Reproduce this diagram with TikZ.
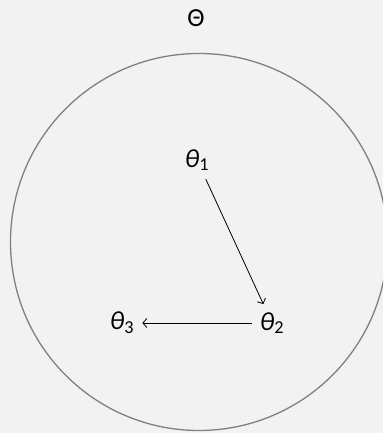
\documentclass[tikz,border=0pt]{standalone}
\usepackage{fontspec}
\setmainfont{Carlito}
\usetikzlibrary{arrows.meta}
\begin{document}
\begin{tikzpicture}[x=1pt,y=1pt,
  lbl/.style={font=\fontsize{26}{30}\selectfont, inner sep=8pt},
  conn/.style={-{Straight Barb[length=4pt,width=9pt]}, line width=0.8pt, black}]
\useasboundingbox (0,0) rectangle (383,433);
\fill[gray!10] (0,0) rectangle (383,433);
\begin{scope}
\clip (0,0) rectangle (383,433);
\draw[line width=1.3pt, gray] (199,191) circle (188.5);
\end{scope}
\node[lbl] (T) at (196,415) {Θ};
\node[lbl] (t1) at (197,273) {\textit{θ}\textsubscript{1}};
\node[lbl] (t2) at (272,110) {\textit{θ}\textsubscript{2}};
\node[lbl] (t3) at (122,110) {\textit{θ}\textsubscript{3}};
\draw[conn] (t1) -- (t2);
\draw[conn] (t2) -- (t3);
\end{tikzpicture}
\end{document}
